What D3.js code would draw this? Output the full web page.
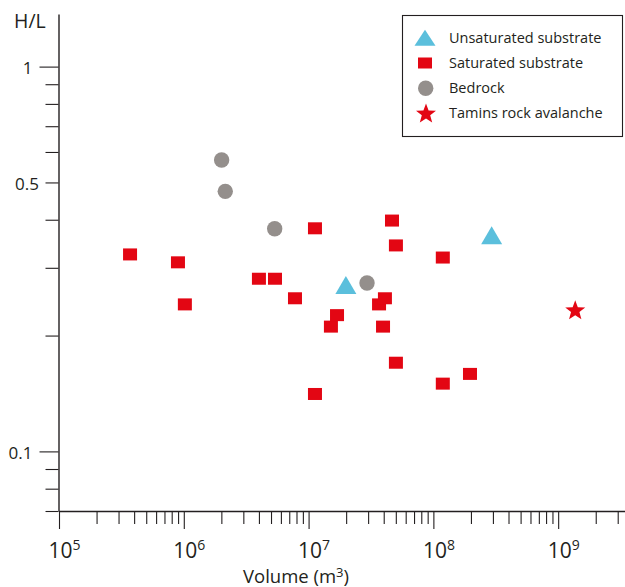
<!DOCTYPE html>
<html>
<head>
<meta charset="utf-8">
<script src="https://cdn.jsdelivr.net/npm/d3@7"></script>
<style>
  body { margin: 0; background: #fff; }
  svg { display: block; font-family: "Open Sans", sans-serif; }
</style>
</head>
<body>
<div id="container"></div>
<script>
// values: volume (m3) and H/L
let unsatVolume = [1.99e7, 2.93e8];
let unsatHL = [0.266, 0.358];

let satVolume = [3.71e5, 8.98e5, 1.02e6, 4.0e6, 5.38e6, 7.78e6, 1.125e7, 1.125e7, 1.51e7, 1.69e7,
                 3.67e7, 3.95e7, 4.09e7, 4.66e7, 5.01e7, 5.01e7, 1.19e8, 1.19e8, 1.965e8];
let satHL = [0.325, 0.310, 0.241, 0.281, 0.281, 0.250, 0.380, 0.141, 0.211, 0.226,
             0.241, 0.211, 0.250, 0.398, 0.343, 0.170, 0.319, 0.150, 0.159];

let bedrockVolume = [2.01e6, 2.15e6, 5.35e6, 2.94e7];
let bedrockHL = [0.572, 0.474, 0.379, 0.274];

let taminsVolume = [1.37e9];
let taminsHL = [0.232];

let legendNames = ["Unsaturated substrate", "Saturated substrate", "Bedrock", "Tamins rock avalanche"];
let yTickValues = [0.07, 0.08, 0.09, 0.1, 0.2, 0.3, 0.4, 0.5, 0.6, 0.7, 0.8, 0.9, 1];
let yLabelled = [0.1, 0.5, 1];
let yLong = [0.1, 1];
let xExponents = [5, 6, 7, 8, 9];

let red = "#e30613", blue = "#5bbfdc", grey = "#948f8c", ink = "#231f20";

let svg = d3.select("#container").append("svg")
    .attr("width", 625)
    .attr("height", 587);

let xScale = d3.scaleLog()
    .domain([1e5, 4e9])
    .range([59, 633.3]);

let yScale = d3.scaleLog()
    .domain([0.07, 1.37])
    .range([511, 14]);

// minor ticks 1..9 x 10^k
let xTickValues = [];
xExponents.forEach(function(k){
  for (let m = 1; m < 10; m++) xTickValues.push(m * Math.pow(10, k));
});

// y axis
let yAxis = d3.axisLeft(yScale)
    .tickValues(yTickValues)
    .tickSize(13)
    .tickSizeOuter(0)
    .tickFormat("");

let gy = svg.append("g").attr("transform", "translate(58.5,0)").call(yAxis);
gy.select(".domain").attr("stroke", ink).attr("stroke-width", 1.4);
gy.selectAll(".tick line").attr("stroke", ink).attr("stroke-width", 1.1)
    .attr("x2", function(d){ return yLong.includes(d) ? -19 : -13; });
gy.selectAll(".tick text")
    .filter(function(d){ return yLabelled.includes(d); })
    .attr("x", function(d){ return yLong.includes(d) ? -26 : -19.5; })
    .attr("dy", "0.42em")
    .attr("fill", ink)
    .style("font-size", "17px")
    .style("font-family", "'Open Sans', sans-serif")
    .text(function(d){ return String(d); });

// x axis
let xAxis = d3.axisBottom(xScale)
    .tickValues(xTickValues)
    .tickSize(13)
    .tickSizeOuter(0)
    .tickFormat("");

let gx = svg.append("g").attr("transform", "translate(0,511)").call(xAxis);
gx.select(".domain").attr("stroke", ink).attr("stroke-width", 1.4);
let isDecade = function(d){ return Math.abs(Math.log10(d) - Math.round(Math.log10(d))) < 1e-9; };
gx.selectAll(".tick line").attr("stroke", ink).attr("stroke-width", 1.1)
    .attr("y2", function(d){ return isDecade(d) ? 18 : 13; });
gx.selectAll(".tick text")
    .filter(isDecade)
    .attr("y", 47)
    .attr("dy", 0)
    .attr("x", -11)
    .attr("text-anchor", "start")
    .attr("fill", ink)
    .style("font-size", "21px")
    .style("font-family", "'Open Sans', sans-serif")
    .each(function(d){
      let t = d3.select(this);
      t.text("10");
      t.append("tspan").attr("dy", -7.6).style("font-size", "14px").text(Math.round(Math.log10(d)));
    });

// axis titles
svg.append("text")
    .attr("x", 14)
    .attr("y", 28.3)
    .attr("fill", ink)
    .style("font-size", "19.5px")
    .text("H/L");

let xTitle = svg.append("text")
    .attr("x", 243)
    .attr("y", 583)
    .attr("fill", ink)
    .style("font-size", "18.5px")
    .text("Volume (m");
xTitle.append("tspan").attr("dy", -6).style("font-size", "13px").text("3");
xTitle.append("tspan").attr("dy", 6).text(")");

// marker shapes
function trianglePath(w, h){
  return "M0," + (-2 * h / 3) + "L" + (w / 2) + "," + (h / 3) + "L" + (-w / 2) + "," + (h / 3) + "Z";
}
function starPath(ro, ri){
  let p = [];
  for (let i = 0; i < 10; i++){
    let r = i % 2 ? ri : ro;
    let a = -Math.PI / 2 + i * Math.PI / 5;
    p.push([r * Math.cos(a), r * Math.sin(a)]);
  }
  return "M" + p.map(function(q){ return q[0].toFixed(2) + "," + q[1].toFixed(2); }).join("L") + "Z";
}

let plot = svg.append("g");

// saturated substrate
plot.selectAll(".sat").data(d3.zip(satVolume, satHL))
  .enter().append("rect")
    .attr("class", "sat")
    .attr("x", function(d){ return xScale(d[0]) - 7; })
    .attr("y", function(d){ return yScale(d[1]) - 6; })
    .attr("width", 14)
    .attr("height", 12)
    .attr("fill", red);

// bedrock
plot.selectAll(".bed").data(d3.zip(bedrockVolume, bedrockHL))
  .enter().append("circle")
    .attr("class", "bed")
    .attr("cx", function(d){ return xScale(d[0]); })
    .attr("cy", function(d){ return yScale(d[1]); })
    .attr("r", 7.7)
    .attr("fill", grey);

// unsaturated substrate
plot.selectAll(".unsat").data(d3.zip(unsatVolume, unsatHL))
  .enter().append("path")
    .attr("class", "unsat")
    .attr("transform", function(d){ return "translate(" + xScale(d[0]) + "," + yScale(d[1]) + ")"; })
    .attr("d", trianglePath(21, 18))
    .attr("fill", blue);

// Tamins
plot.selectAll(".tamins").data(d3.zip(taminsVolume, taminsHL))
  .enter().append("path")
    .attr("class", "tamins")
    .attr("transform", function(d){ return "translate(" + xScale(d[0]) + "," + yScale(d[1]) + ")"; })
    .attr("d", starPath(10.5, 4.4))
    .attr("fill", red);

// legend
let legend = svg.append("g");
legend.append("rect")
    .attr("x", 402.5)
    .attr("y", 15.5)
    .attr("width", 220)
    .attr("height", 121)
    .attr("fill", "#fff")
    .attr("stroke", ink)
    .attr("stroke-width", 1.1);

let rows = legend.selectAll(".legend").data(legendNames)
  .enter().append("g")
    .attr("class", "legend")
    .attr("transform", function(d, i){ return "translate(0," + (38 + i * 25) + ")"; });

rows.append("text")
    .attr("x", 449)
    .attr("y", 5.3)
    .attr("fill", ink)
    .style("font-size", "14.5px")
    .text(function(d){ return d; });

rows.each(function(d, i){
  let g = d3.select(this);
  if (i === 0) g.append("path").attr("transform", "translate(425,2.5)").attr("d", trianglePath(21, 16)).attr("fill", blue);
  if (i === 1) g.append("rect").attr("x", 418).attr("y", -5.5).attr("width", 14).attr("height", 11).attr("fill", red);
  if (i === 2) g.append("circle").attr("cx", 425.7).attr("cy", 0.3).attr("r", 7.7).attr("fill", grey);
  if (i === 3) g.append("path").attr("transform", "translate(426,1)").attr("d", starPath(10.5, 4.4)).attr("fill", red);
});
</script>
</body>
</html>
